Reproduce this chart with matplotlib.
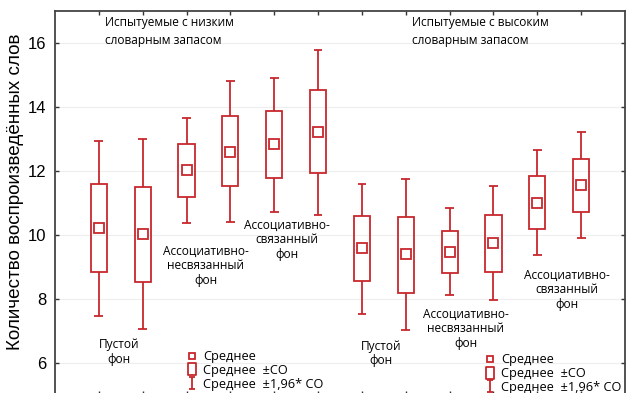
import matplotlib
matplotlib.use("Agg")
import matplotlib.pyplot as plt
from matplotlib.lines import Line2D
from matplotlib.path import Path
import numpy as np

# Data
positions = [1, 2, 3, 4, 5, 6, 7, 8, 9, 10, 11, 12]
means = [10.20, 10.02, 12.01, 12.59, 12.83, 13.20, 9.58, 9.40, 9.47, 9.73, 11.00, 11.55]
box_low = [8.85, 8.52, 11.19, 11.51, 11.76, 11.92, 8.55, 8.19, 8.80, 8.85, 10.18, 10.72]
box_high = [11.58, 11.50, 12.82, 13.70, 13.86, 14.51, 10.59, 10.57, 10.13, 10.62, 11.83, 12.37]
whisk_low = [7.48, 7.05, 10.37, 10.41, 10.72, 10.62, 7.53, 7.02, 8.11, 7.95, 9.36, 9.89]
whisk_high = [12.93, 12.98, 13.65, 14.80, 14.90, 15.78, 11.60, 11.74, 10.83, 11.53, 12.65, 13.20]

group_titles = ["Испытуемые с низким\nсловарным запасом", "Испытуемые с высоким\nсловарным запасом"]
cond_labels = ["Пустой\nфон", "Ассоциативно-\nнесвязанный\nфон", "Ассоциативно-\nсвязанный\nфон"]
legend_labels = ["Среднее", "Среднее  ±СО", "Среднее  ±1,96* СО"]
ylabel = "Количество воспроизведённых слов"
yticks = [6, 8, 10, 12, 14, 16]

RED = "#c8282d"
W, H = 627, 393
fig = plt.figure(figsize=(W / 100, H / 100), dpi=100)
ax = fig.add_axes([55 / W, -2 / H, (625 - 55) / W, (395 - 10.5) / H])
ax.set_xlim(0, 13)
ax.set_ylim(5, 17)

lw = 1.3
box_w = 0.37
cap_w = 0.2
for x, m, bl, bh, wl, wh in zip(positions, means, box_low, box_high, whisk_low, whisk_high):
    ax.bar(x, bh - bl, bottom=bl, width=box_w, fill=False, edgecolor=RED, linewidth=lw, zorder=3)
    ax.vlines(x, bh, wh, color=RED, linewidth=lw, zorder=3)
    ax.vlines(x, wl, bl, color=RED, linewidth=lw, zorder=3)
    ax.hlines([wl, wh], x - cap_w / 2, x + cap_w / 2, color=RED, linewidth=lw, zorder=3)
ax.plot(positions, means, linestyle="none", marker="s", markersize=6.5,
        markerfacecolor="white", markeredgecolor=RED, markeredgewidth=lw, zorder=4)

# axes styling
ax.set_yticks(yticks)
ax.set_yticklabels([str(t) for t in yticks], fontsize=12, family="Liberation Sans")
ax.set_xticks(positions)
ax.set_xticklabels([])
ax.tick_params(axis="both", direction="in", length=3, width=1, color="#333333",
               top=True, right=True, bottom=True, left=True, pad=6)
for s in ax.spines.values():
    s.set_color("#444444")
    s.set_linewidth(1.3)
ax.grid(axis="y", color="#eeeeee", linewidth=0.8)
ax.set_axisbelow(True)
ax.set_ylabel(ylabel, fontsize=13.6, family="Liberation Sans")
ax.yaxis.set_label_coords(-0.054, 0.528)

TF = "Open Sans"
tfs = 8.6
# group titles
ax.text(1.13, 16.33, group_titles[0], fontsize=tfs, family=TF, ha="left", va="center", linespacing=1.5)
ax.text(8.15, 16.33, group_titles[1], fontsize=tfs, family=TF, ha="left", va="center", linespacing=1.5)

# condition labels (positioned under each pair)
cond_pos = [(1.46, 6.34, 0), (3.44, 9.04, 1), (5.29, 9.85, 2),
            (7.43, 6.29, 0), (9.37, 7.06, 1), (11.68, 8.28, 2)]
for cx, cy, k in cond_pos:
    ax.text(cx, cy, cond_labels[k], fontsize=tfs, family=TF, ha="center", va="center", linespacing=1.15)

# legend handles
box_path = Path([(-0.6, -1), (0.6, -1), (0.6, 1), (-0.6, 1), (-0.6, -1)],
                [Path.MOVETO, Path.LINETO, Path.LINETO, Path.LINETO, Path.CLOSEPOLY])
whisk_path = Path([(-0.55, 1), (0.55, 1), (0, 1), (0, -1), (-0.55, -1), (0.55, -1)],
                  [Path.MOVETO, Path.LINETO, Path.MOVETO, Path.LINETO, Path.MOVETO, Path.LINETO])
handles = [
    Line2D([], [], linestyle="none", marker="s", markersize=5.0, markerfacecolor="white",
           markeredgecolor=RED, markeredgewidth=lw),
    Line2D([], [], linestyle="none", marker=box_path, markersize=8.5, markerfacecolor="none",
           markeredgecolor=RED, markeredgewidth=lw),
    Line2D([], [], linestyle="none", marker=whisk_path, markersize=9.0, markerfacecolor="none",
           markeredgecolor=RED, markeredgewidth=lw),
]
leg_kw = dict(frameon=False, prop={"family": TF, "size": 9.2}, handlelength=1.0,
              handletextpad=0.35, labelspacing=0.07, borderpad=0, borderaxespad=0, loc="upper left")
leg1 = ax.legend(handles, legend_labels, bbox_to_anchor=(0.230, 0.117), **leg_kw)
ax.add_artist(leg1)
leg2 = ax.legend(handles, legend_labels, bbox_to_anchor=(0.752, 0.109), **leg_kw)

fig.savefig("out.png", dpi=100)
